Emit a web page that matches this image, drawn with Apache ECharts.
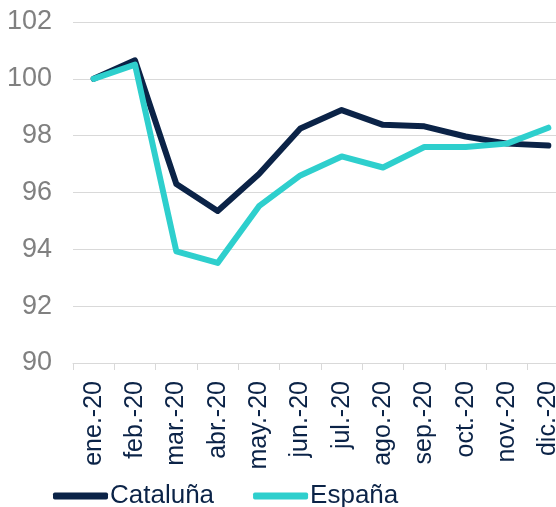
<!DOCTYPE html>
<html>
<head>
<meta charset="utf-8">
<script src="https://cdn.jsdelivr.net/npm/echarts@6/dist/echarts.min.js"></script>
<style>
  html, body { margin: 0; padding: 0; background: #fff; overflow: hidden; }
  /* the original chart is cropped on the right, so the canvas is a bit wider than the window */
  #chart { width: 574px; height: 507px; }
</style>
</head>
<body>
<div id="chart"></div>
<script>
// meses
var months = ['ene.-20', 'feb.-20', 'mar.-20', 'abr.-20', 'may.-20', 'jun.-20',
  'jul.-20', 'ago.-20', 'sep.-20', 'oct.-20', 'nov.-20', 'dic.-20']
var cataluna = [100, 100.65, 96.3, 95.35, 96.65, 98.25, 98.9, 98.38, 98.33, 97.97, 97.72, 97.65]
var espana = [100, 100.5, 93.93, 93.52, 95.52, 96.6, 97.27, 96.88, 97.6, 97.6, 97.72, 98.28]

var navy = '#0b2347'
var teal = '#2ecfcd'

var chart = echarts.init(document.getElementById('chart'))
chart.setOption({
  animation: false,
  grid: {
    left: 73,
    top: 22,
    right: 5,
    bottom: 144,
    containLabel: false
  },
  legend: {
    left: 48,
    top: 478,
    itemWidth: 55,
    itemHeight: 7,
    itemGap: 39,
    icon: 'roundRect',
    textStyle: { color: navy, fontSize: 26, fontFamily: 'Liberation Sans, Arial', padding: [0, 0, 0, -3] },
    data: ['Cataluña', 'España']
  },
  xAxis: {
    type: 'category',
    data: months,
    boundaryGap: true,
    axisLine: { lineStyle: { color: '#d9d9d9', width: 1 } },
    axisTick: { show: true, length: 7, lineStyle: { color: '#d9d9d9' } },
    axisLabel: {
      rotate: 90,
      interval: 0,
      margin: 18,
      color: navy,
      fontSize: 25,
      fontFamily: 'Liberation Sans, Arial'
    }
  },
  yAxis: {
    type: 'value',
    min: 90,
    max: 102,
    interval: 2,
    axisLine: { show: false },
    axisTick: { show: false },
    splitLine: { lineStyle: { color: '#d9d9d9', width: 1 } },
    axisLabel: {
      margin: 21,
      color: '#808080',
      fontSize: 27,
      fontFamily: 'Liberation Sans, Arial'
    }
  },
  series: [
    {
      name: 'Cataluña',
      type: 'line',
      data: cataluna,
      symbol: 'none',
      itemStyle: { color: navy },
      lineStyle: { color: navy, width: 6, cap: 'round', join: 'round' }
    },
    {
      name: 'España',
      type: 'line',
      data: espana,
      symbol: 'none',
      itemStyle: { color: teal },
      lineStyle: { color: teal, width: 6, cap: 'round', join: 'round' }
    }
  ]
})
</script>
</body>
</html>
